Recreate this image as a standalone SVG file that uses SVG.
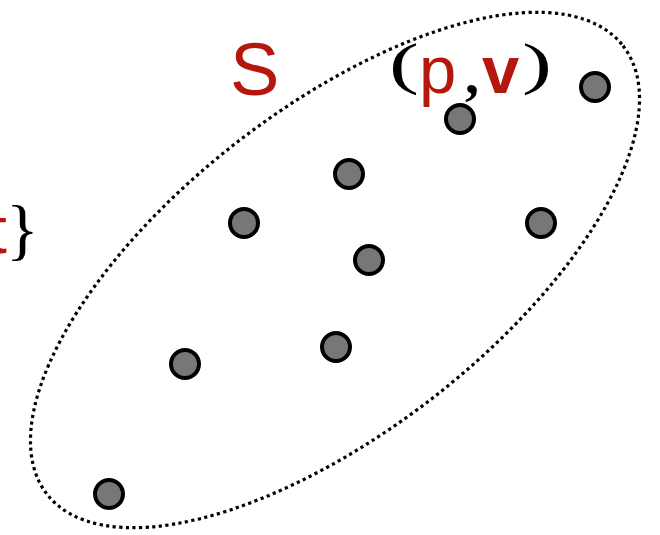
<svg xmlns="http://www.w3.org/2000/svg" width="660" height="535" viewBox="0 0 660 535">
<style>
.pt{fill:#777777;stroke:#000;stroke-width:4}
.red{fill:#B5170C;font-family:"Liberation Sans",Arial,sans-serif}
.blk{fill:#000;font-family:"Liberation Serif","Times New Roman",serif}
</style>
<rect width="660" height="535" fill="#fff"/>
<g id="set-S">
<ellipse cx="335" cy="270" rx="365" ry="161" transform="rotate(-37.9 335 270)" fill="none" stroke="#000" stroke-width="3.2" stroke-dasharray="3.2 3.4"/>
</g>
<g id="labels">
<text class="red" x="-11.5" y="253" font-size="66">t</text>
<text class="blk" x="6" y="252" font-size="68">}</text>
<text class="red" x="230" y="95" font-size="74">S</text>
<text class="blk" transform="translate(389,83) scale(1.55,1)" font-size="58">(</text>
<text class="red" x="419" y="93" font-size="67">p</text>
<text class="blk" x="465" y="93" font-size="56" font-weight="bold">,</text>
<text class="red" x="482" y="93" font-size="67" font-weight="bold">v</text>
<text class="blk" transform="translate(522,83) scale(1.55,1)" font-size="58">)</text>
</g>
<g id="points">
<circle id="p1" class="pt" cx="595" cy="87" r="14"/>
<circle id="p2" class="pt" cx="460" cy="119" r="14"/>
<circle id="p3" class="pt" cx="349" cy="174" r="14"/>
<circle id="p4" class="pt" cx="244" cy="223" r="14"/>
<circle id="p5" class="pt" cx="541" cy="223" r="14"/>
<circle id="p6" class="pt" cx="369" cy="260" r="14"/>
<circle id="p7" class="pt" cx="336" cy="347" r="14"/>
<circle id="p8" class="pt" cx="185" cy="364" r="14"/>
<circle id="p9" class="pt" cx="109" cy="494" r="14"/>
</g>
</svg>
